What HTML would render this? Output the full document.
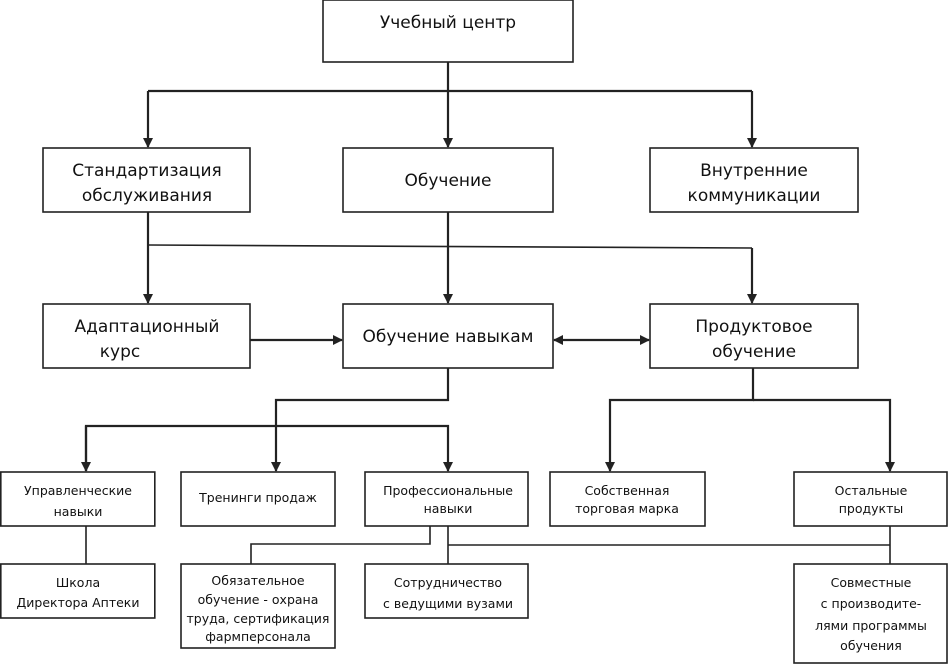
<!DOCTYPE html>
<html><head><meta charset="utf-8"><style>
body{margin:0;background:#fff;}
svg text{font-family:"DejaVu Sans","Liberation Sans",sans-serif;fill:#111;text-anchor:middle;}
.b{font-size:17px}.s{font-size:12.5px}
rect{fill:#fff;stroke:#222;stroke-width:1.6}
line,polyline{stroke:#222;stroke-width:1.6;fill:none}
.t{stroke-width:2.2}
</style></head><body>
<svg width="949" height="664" viewBox="0 0 949 664" xmlns="http://www.w3.org/2000/svg">
<defs><marker id="a" markerWidth="10" markerHeight="10" refX="9" refY="5" orient="auto" markerUnits="userSpaceOnUse"><path d="M0,0 L10,5 L0,10z" fill="#222"/></marker>
<marker id="as" markerWidth="10" markerHeight="10" refX="1" refY="5" orient="auto" markerUnits="userSpaceOnUse"><path d="M10,0 L0,5 L10,10z" fill="#222"/></marker></defs>
<!-- connectors -->
<line class="t" x1="448" y1="62" x2="448" y2="147" marker-end="url(#a)"/>
<line class="t" x1="148" y1="91" x2="752" y2="91"/>
<line class="t" x1="148" y1="91" x2="148" y2="147" marker-end="url(#a)"/>
<line class="t" x1="752" y1="91" x2="752" y2="147" marker-end="url(#a)"/>
<line class="t" x1="148" y1="212" x2="148" y2="303" marker-end="url(#a)"/>
<line x1="148" y1="245" x2="752" y2="248"/>
<line class="t" x1="752" y1="248" x2="752" y2="303" marker-end="url(#a)"/>
<line class="t" x1="448" y1="212" x2="448" y2="303" marker-end="url(#a)"/>
<line class="t" x1="250" y1="340" x2="342" y2="340" marker-end="url(#a)"/>
<line class="t" x1="554" y1="340" x2="649" y2="340" marker-start="url(#as)" marker-end="url(#a)"/>
<polyline points="448,368 448,400 276,400 276,471" marker-end="url(#a)" class="t"/>
<polyline points="86,471 86,426 448,426 448,471" marker-end="url(#a)" class="t"/>
<line class="t" x1="86" y1="426" x2="86" y2="471" marker-end="url(#a)"/>
<polyline points="753,368 753,400 610,400 610,471" marker-end="url(#a)" class="t"/>
<polyline points="753,400 890,400 890,471" marker-end="url(#a)" class="t"/>
<line x1="86" y1="526" x2="86" y2="564"/>
<polyline points="430,526 430,544 251,544 251,564"/>
<line x1="448" y1="526" x2="448" y2="564"/>
<line x1="448" y1="545" x2="890" y2="545"/>
<line x1="890" y1="526" x2="890" y2="564"/>
<!-- boxes -->
<rect x="323" y="0" width="250" height="62"/>
<text class="b" x="448" y="28">Учебный центр</text>
<rect x="43" y="148" width="207" height="64"/>
<text class="b" x="147" y="176">Стандартизация</text><text class="b" x="147" y="201">обслуживания</text>
<rect x="343" y="148" width="210" height="64"/>
<text class="b" x="448" y="186">Обучение</text>
<rect x="650" y="148" width="208" height="64"/>
<text class="b" x="754" y="176">Внутренние</text><text class="b" x="754" y="201">коммуникации</text>
<rect x="43" y="304" width="207" height="64"/>
<text class="b" x="147" y="332">Адаптационный</text><text class="b" x="120" y="357">курс</text>
<rect x="343" y="304" width="210" height="64"/>
<text class="b" x="448" y="342">Обучение навыкам</text>
<rect x="650" y="304" width="208" height="64"/>
<text class="b" x="754" y="332">Продуктовое</text><text class="b" x="754" y="357">обучение</text>
<rect x="0.8" y="472" width="154" height="54"/>
<text class="s" x="78" y="495">Управленческие</text><text class="s" x="78" y="516">навыки</text>
<rect x="181" y="472" width="154" height="54"/>
<text class="s" x="258" y="502">Тренинги продаж</text>
<rect x="365" y="472" width="163" height="54"/>
<text class="s" x="448" y="495">Профессиональные</text><text class="s" x="448" y="513">навыки</text>
<rect x="550" y="472" width="155" height="54"/>
<text class="s" x="627" y="495">Собственная</text><text class="s" x="627" y="513">торговая марка</text>
<rect x="794" y="472" width="153" height="54"/>
<text class="s" x="871" y="495">Остальные</text><text class="s" x="871" y="513">продукты</text>
<rect x="0.8" y="564" width="154" height="54"/>
<text class="s" x="78" y="587">Школа</text><text class="s" x="78" y="607">Директора Аптеки</text>
<rect x="181" y="564" width="154" height="84"/>
<text class="s" x="258" y="585">Обязательное</text><text class="s" x="258" y="604">обучение - охрана</text><text class="s" x="258" y="623">труда, сертификация</text><text class="s" x="258" y="641">фармперсонала</text>
<rect x="365" y="564" width="163" height="54"/>
<text class="s" x="448" y="587">Сотрудничество</text><text class="s" x="448" y="608">с ведущими вузами</text>
<rect x="794" y="564" width="153" height="99"/>
<text class="s" x="871" y="587">Совместные</text><text class="s" x="871" y="608">с производите-</text><text class="s" x="871" y="630">лями программы</text><text class="s" x="871" y="650">обучения</text>
</svg>
</body></html>
